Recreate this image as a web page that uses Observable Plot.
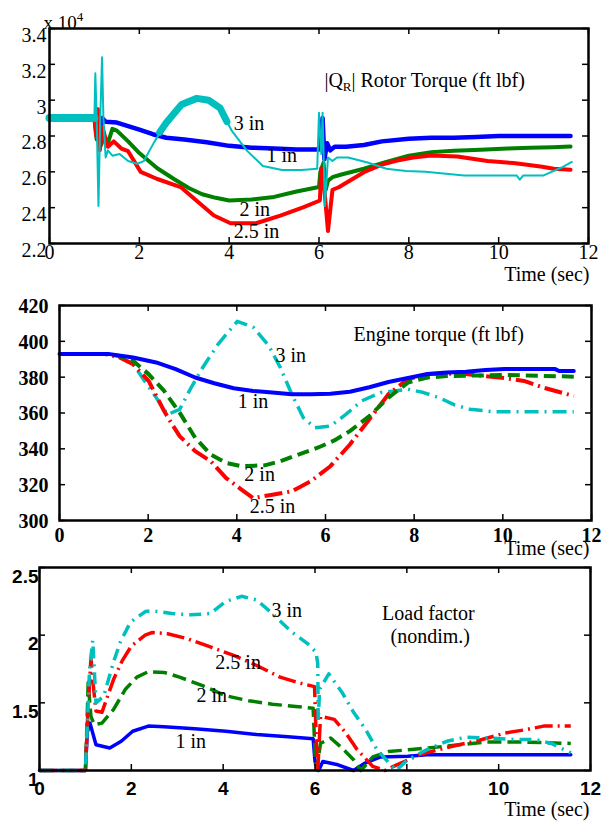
<!DOCTYPE html>
<html><head><meta charset="utf-8">
<script src="https://cdn.jsdelivr.net/npm/d3@7"></script>
<script src="https://cdn.jsdelivr.net/npm/@observablehq/plot@0.6"></script>
<style>
body{margin:0;background:#fff;}
#wrap{position:relative;width:609px;height:827px;background:#fff;}
#wrap svg{position:absolute;left:0;}
</style></head><body><div id="wrap"></div>
<script>
// ---------- data ----------
const timeTicks = [0, 2, 4, 6, 8, 10, 12];
const timeTickLabels = ["0", "2", "4", "6", "8", "10", "12"];
const seriesNames = ["1 in", "2 in", "2.5 in", "3 in"];

// Panel 1: rotor torque (x 10^4 ft lbf)
const rotorTicks = [2.2, 2.4, 2.6, 2.8, 3.0, 3.2, 3.4];
const rotorTickLabels = ["2.2", "2.4", "2.6", "2.8", "3", "3.2", "3.4"];
const rotor1in = [[0,2.9],[1.0,2.9],[1.03,2.86],[1.08,2.93],[1.12,2.78],[1.17,2.9],[1.25,2.88],[1.5,2.875],[1.75,2.855],[2,2.835],[2.3,2.81],[2.6,2.79],[3,2.78],[3.5,2.765],[4,2.745],[4.5,2.735],[5,2.73],[5.5,2.725],[6,2.725],[6.03,2.8],[6.08,2.9],[6.12,2.67],[6.18,2.76],[6.25,2.72],[6.35,2.74],[6.6,2.74],[7,2.75],[7.4,2.77],[8,2.785],[8.5,2.79],[9,2.79],[9.5,2.795],[10,2.8],[11,2.8],[11.6,2.8]];
const rotor2in = [[0,2.9],[1.0,2.9],[1.05,2.78],[1.1,2.9],[1.15,2.75],[1.22,2.8],[1.3,2.76],[1.4,2.84],[1.5,2.83],[1.75,2.77],[2,2.705],[2.4,2.62],[2.77,2.56],[3.1,2.51],[3.4,2.475],[3.7,2.455],[4,2.44],[4.5,2.445],[5,2.46],[5.5,2.49],[6,2.515],[6.03,2.6],[6.1,2.65],[6.15,2.5],[6.2,2.55],[6.3,2.57],[6.5,2.585],[7,2.617],[7.5,2.655],[8,2.69],[8.5,2.71],[9,2.718],[9.6,2.723],[10.2,2.73],[10.7,2.734],[11.2,2.737],[11.6,2.741]];
const rotor25in = [[0,2.9],[1.0,2.9],[1.04,2.8],[1.08,2.95],[1.12,2.72],[1.18,2.85],[1.25,2.78],[1.3,2.74],[1.43,2.77],[1.6,2.73],[1.75,2.715],[2.03,2.6],[2.4,2.56],[2.92,2.515],[3.36,2.42],[3.66,2.356],[4.03,2.313],[4.6,2.313],[5.14,2.356],[5.66,2.403],[6.02,2.44],[6.05,2.62],[6.12,2.5],[6.2,2.27],[6.3,2.5],[6.44,2.514],[7.0,2.598],[7.4,2.64],[7.74,2.663],[8.1,2.68],[8.49,2.691],[9.08,2.686],[9.75,2.66],[10.33,2.649],[10.93,2.63],[11.23,2.617],[11.6,2.611]];
const rotor3in = [[0,2.9],[1.0,2.9],[1.02,3.15],[1.05,2.9],[1.09,2.41],[1.13,2.9],[1.17,3.24],[1.2,2.9],[1.25,2.68],[1.3,2.72],[1.4,2.69],[1.56,2.7],[1.75,2.66],[1.95,2.645],[2.1,2.66],[2.34,2.77],[2.6,2.874],[2.94,2.976],[3.28,3.01],[3.54,3.0],[3.8,2.955],[4.06,2.828],[4.4,2.717],[4.75,2.633],[5.18,2.61],[5.61,2.61],[5.96,2.617],[6.0,2.93],[6.05,2.7],[6.08,2.93],[6.13,2.41],[6.2,2.68],[6.3,2.66],[6.4,2.68],[6.65,2.68],[7.08,2.652],[7.5,2.617],[7.94,2.605],[8.37,2.6],[9.23,2.58],[10.09,2.58],[10.4,2.58],[10.47,2.556],[10.55,2.58],[11.0,2.58],[11.4,2.624],[11.63,2.655]];
// noisy (thick) stretches of the 3 in trace
const rotor3inNoisyStart = [[0,2.9],[1.0,2.9]];
const rotor3inNoisyPeak = [[2.45,2.82],[2.6,2.874],[2.94,2.976],[3.28,3.01],[3.54,3.0],[3.8,2.955],[3.95,2.88]];

// Panel 2: engine torque (ft lbf)
const engineTicks = [300, 320, 340, 360, 380, 400, 420];
const engineTickLabels = ["300", "320", "340", "360", "380", "400", "420"];
const engine1in = [[0,393],[1.1,393],[1.66,391],[2.18,388.2],[2.62,384.5],[3.06,379.8],[3.49,376.6],[3.93,373.8],[4.37,372.3],[4.8,371.4],[5.24,370.5],[5.67,370.5],[6.11,370.8],[6.55,371.9],[6.99,374.4],[7.42,377.3],[7.86,379.5],[8.3,381.8],[8.73,382.6],[9.17,383],[9.61,384],[10.04,384.5],[11.18,384.5],[11.27,383.4],[11.6,383.4]];
const engine2in = [[0,393],[1.0,393],[1.31,392],[1.66,389.1],[2.01,381.7],[2.36,372.3],[2.71,360.2],[3.06,346.2],[3.41,336.8],[3.76,332.1],[4.1,330.3],[4.63,330.8],[4.98,333.1],[5.33,336.3],[5.85,340.9],[6.2,344.7],[6.55,349.9],[6.99,358.3],[7.42,368.6],[7.86,377],[8.3,379.8],[8.73,380.6],[10.04,381.2],[11.6,380.3]];
const engine25in = [[0,393],[1.0,393],[1.31,391.5],[1.66,387.3],[2.01,377.9],[2.36,361.1],[2.54,353.7],[2.71,347.1],[3.06,338.7],[3.41,333.1],[3.76,323.7],[4.06,318.1],[4.37,312.5],[4.8,314.4],[5.24,316.3],[5.67,321.9],[6.11,330.3],[6.55,342.4],[6.99,356.5],[7.42,370.5],[7.86,378.9],[8.3,381.7],[8.73,382],[9.17,381.7],[10.04,379.5],[10.48,377.9],[10.91,374.2],[11.6,369.5]];
const engine3in = [[0,393],[1.0,393],[1.31,392],[1.66,387.3],[1.92,377.9],[2.18,368.6],[2.44,359.2],[2.71,362],[2.97,374.2],[3.23,385.4],[3.58,398.5],[4.01,411.2],[4.37,407.8],[4.72,397.6],[4.98,385.4],[5.24,370.5],[5.5,357.4],[5.76,351.8],[6.11,352.7],[6.46,359.2],[6.81,366.7],[7.25,371.4],[7.86,373.3],[8.21,371.4],[8.56,368.6],[8.91,364.5],[9.26,362.1],[9.78,360.7],[11.6,360.7]];

// Panel 3: load factor (nondim.)
const loadTicks = [1, 1.5, 2, 2.5];
const loadTickLabels = ["1", "1.5", "2", "2.5"];
const load1in = [[0,1.0],[1.0,1.0],[1.04,1.28],[1.1,1.35],[1.23,1.19],[1.53,1.166],[1.78,1.216],[2.03,1.29],[2.37,1.328],[2.71,1.323],[3.38,1.308],[4.06,1.29],[4.73,1.266],[5.41,1.249],[5.96,1.234],[6.0,1.067],[6.08,1.0],[6.17,1.067],[6.5,1.042],[6.84,1.0],[7.09,1.055],[7.43,1.1],[8.02,1.105],[8.44,1.117],[11.57,1.117]];
const load2in = [[0,1.0],[1.0,1.0],[1.03,1.3],[1.06,1.65],[1.12,1.4],[1.19,1.34],[1.36,1.35],[1.61,1.45],[1.87,1.6],[2.12,1.69],[2.37,1.73],[2.71,1.725],[3.05,1.69],[3.55,1.627],[4.06,1.552],[4.56,1.515],[5.07,1.49],[5.58,1.473],[5.96,1.46],[6.01,1.05],[6.04,1.02],[6.12,1.2],[6.34,1.24],[6.59,1.166],[6.84,1.08],[7.0,1.0],[7.26,1.1],[7.6,1.14],[8.1,1.155],[8.87,1.18],[9.71,1.21],[10.56,1.21],[11.57,1.2]];
const load25in = [[0,1.0],[1.0,1.0],[1.05,1.4],[1.12,1.83],[1.18,1.6],[1.23,1.44],[1.36,1.43],[1.61,1.67],[1.8,1.81],[2.0,1.92],[2.3,2.0],[2.46,2.02],[2.79,2.01],[3.21,1.975],[3.72,1.913],[4.23,1.85],[4.73,1.776],[5.24,1.69],[5.66,1.647],[5.99,1.62],[6.03,1.2],[6.06,1.0],[6.12,1.4],[6.42,1.378],[6.67,1.278],[6.92,1.154],[7.26,1.03],[7.52,1.0],[7.77,1.04],[8.28,1.117],[8.87,1.17],[9.54,1.22],[10.13,1.276],[10.56,1.3],[10.98,1.328],[11.57,1.328]];
const load3in = [[0,1.0],[1.0,1.0],[1.05,1.4],[1.09,1.75],[1.16,1.96],[1.2,1.7],[1.23,1.5],[1.4,1.55],[1.61,1.8],[1.76,1.948],[1.98,2.096],[2.31,2.175],[2.46,2.18],[2.88,2.16],[3.3,2.15],[3.72,2.16],[4.06,2.25],[4.4,2.287],[4.73,2.26],[5.07,2.16],[5.49,2.025],[5.83,1.94],[6.02,1.875],[6.06,1.79],[6.07,1.37],[6.1,1.6],[6.3,1.714],[6.59,1.577],[6.84,1.43],[7.09,1.31],[7.35,1.154],[7.6,1.06],[7.77,1.0],[8.02,1.08],[8.44,1.154],[8.87,1.216],[9.29,1.246],[9.8,1.24],[10.3,1.23],[10.81,1.228],[11.15,1.2],[11.57,1.13]];

// ---------- styling ----------
const SERIF = "Liberation Serif, Times New Roman, serif";
const SANS = "Liberation Sans, Arial, sans-serif";
const C = {blue: "#0000ff", green: "#008000", red: "#ff0000", cyan: "#00bfbf"};

function panel(cfg) {
  const fw = 609 - cfg.mL - cfg.mR;
  const fh = cfg.h - cfg.mT - cfg.mB;
  const fmt = (ticks, labels) => d => labels[ticks.indexOf(d)];
  const marks = [];
  cfg.lines.forEach(l => marks.push(Plot.line(l.data, {
    x: d => d[0], y: d => d[1], stroke: l.color, strokeWidth: l.width,
    strokeDasharray: l.dash, strokeLinejoin: "round", strokeLinecap: l.dash ? "butt" : "round"
  })));
  marks.push(
    Plot.frame({stroke: "black", strokeWidth: 2.5}),
    Plot.tickX(cfg.xTicks, {x: d => d, insetTop: fh - 6, stroke: "black", strokeWidth: 1.5}),
    Plot.tickX(cfg.xTicks, {x: d => d, insetBottom: fh - 6, stroke: "black", strokeWidth: 1.5}),
    Plot.tickY(cfg.yTicks, {y: d => d, insetRight: fw - 6, stroke: "black", strokeWidth: 1.5}),
    Plot.tickY(cfg.yTicks, {y: d => d, insetLeft: fw - 6, stroke: "black", strokeWidth: 1.5}),
    Plot.axisX({ticks: cfg.xTicks, tickFormat: fmt(cfg.xTicks, cfg.xLabels), tickSize: 0, tickPadding: cfg.xPad,
      fontSize: cfg.tickFont, fontFamily: cfg.tickFamily, fontWeight: cfg.tickWeight, label: null, fill: "black"}),
    Plot.axisY({ticks: cfg.yTicks, tickFormat: fmt(cfg.yTicks, cfg.yLabels), tickSize: 0, tickPadding: cfg.yPad,
      dy: cfg.yDy, fontSize: cfg.tickFont, fontFamily: cfg.tickFamily, fontWeight: cfg.tickWeight, label: null, fill: "black"}),
    Plot.text(["Time (sec)"], {frameAnchor: "bottom-right", textAnchor: "end", dx: cfg.timeDx, dy: cfg.timeDy,
      fontSize: 20, fontFamily: SERIF, fill: "black"})
  );
  cfg.notes.forEach(n => marks.push(Plot.text([n], {x: n.x, y: n.y, text: d => d.text, textAnchor: n.anchor || "start",
    fontSize: 20, fontFamily: SERIF, fill: "black"})));
  (cfg.extra || []).forEach(m => marks.push(m));
  const svg = Plot.plot({
    width: 609, height: cfg.h,
    marginTop: cfg.mT, marginBottom: cfg.mB, marginLeft: cfg.mL, marginRight: cfg.mR,
    x: {domain: [0, 12]}, y: {domain: cfg.yDomain},
    style: {background: "transparent", overflow: "visible", fontFamily: SERIF, fontSize: "20px", color: "black"},
    marks
  });
  svg.style.top = cfg.top + "px";
  document.getElementById("wrap").appendChild(svg);
  return svg;
}

function richText(svg, full, before, small, after, size, shift) {
  svg.querySelectorAll("text").forEach(t => {
    if (t.textContent === full) {
      while (t.firstChild) t.removeChild(t.firstChild);
      const ns = "http://www.w3.org/2000/svg";
      t.appendChild(document.createTextNode(before));
      const s = document.createElementNS(ns, "tspan");
      s.setAttribute("font-size", size); s.setAttribute("dy", shift); s.textContent = small;
      t.appendChild(s);
      if (after) {
        const a = document.createElementNS(ns, "tspan");
        a.setAttribute("dy", -shift); a.textContent = after;
        t.appendChild(a);
      }
    }
  });
}

// Panel 1
const p1 = panel({
  top: 0, h: 295, mT: 28, mB: 52, mL: 49, mR: 21,
  yDomain: [2.2, 3.4], xTicks: timeTicks, xLabels: timeTickLabels, yTicks: rotorTicks, yLabels: rotorTickLabels,
  tickFont: 20, tickFamily: SERIF, tickWeight: "normal", xPad: 1, yPad: 3, yDy: 7, timeDx: 1, timeDy: 37,
  lines: [
    {data: rotor1in, color: C.blue, width: 4.5},
    {data: rotor2in, color: C.green, width: 4},
    {data: rotor25in, color: C.red, width: 4},
    {data: rotor3in, color: C.cyan, width: 2},
    {data: rotor3inNoisyStart, color: C.cyan, width: 8},
    {data: rotor3inNoisyPeak, color: C.cyan, width: 7}
  ],
  notes: [
    {text: "|QR| Rotor Torque (ft lbf)", x: 6.12, y: 3.112},
    {text: seriesNames[3], x: 4.10, y: 2.872},
    {text: seriesNames[0], x: 4.83, y: 2.688},
    {text: seriesNames[1], x: 4.23, y: 2.392},
    {text: seriesNames[2], x: 4.10, y: 2.269}
  ],
  extra: [Plot.text(["x 104"], {frameAnchor: "top-left", textAnchor: "start", dx: -6, dy: -13, fontSize: 19, fontFamily: SERIF, fill: "black"})]
});
richText(p1, "|QR| Rotor Torque (ft lbf)", "|Q", "R", "| Rotor Torque (ft lbf)", 13, 4);
richText(p1, "x 104", "x 10", "4", "", 13, -8);

// Panel 2
panel({
  top: 295, h: 270, mT: 10, mB: 45, mL: 59, mR: 18,
  yDomain: [300, 420], xTicks: timeTicks, xLabels: timeTickLabels, yTicks: engineTicks, yLabels: engineTickLabels,
  tickFont: 20, tickFamily: SERIF, tickWeight: "bold", xPad: 7, yPad: 11, yDy: 1, timeDx: -2, timeDy: 34,
  lines: [
    {data: engine3in, color: C.cyan, width: 3.5, dash: "14,6,2,6"},
    {data: engine25in, color: C.red, width: 4, dash: "18,5,2,5"},
    {data: engine2in, color: C.green, width: 4, dash: "12,6"},
    {data: engine1in, color: C.blue, width: 4}
  ],
  notes: [
    {text: "Engine torque (ft lbf)", x: 6.63, y: 404.0},
    {text: seriesNames[3], x: 4.87, y: 391.8},
    {text: seriesNames[0], x: 4.02, y: 366.6},
    {text: seriesNames[1], x: 4.17, y: 325.9},
    {text: seriesNames[2], x: 4.29, y: 307.5}
  ]
});

// Panel 3
panel({
  top: 565, h: 262, mT: 2, mB: 57, mL: 39, mR: 19,
  yDomain: [1, 2.5], xTicks: timeTicks, xLabels: timeTickLabels, yTicks: loadTicks, yLabels: loadTickLabels,
  tickFont: 19, tickFamily: SANS, tickWeight: "bold", xPad: 11, yPad: 1, yDy: 9, timeDx: -1, timeDy: 45,
  lines: [
    {data: load1in, color: C.blue, width: 3.5},
    {data: load2in, color: C.green, width: 3.5, dash: "14,6"},
    {data: load25in, color: C.red, width: 3.5, dash: "18,5,2,5"},
    {data: load3in, color: C.cyan, width: 3.5, dash: "12,6,2,6"}
  ],
  notes: [
    {text: seriesNames[3], x: 5.05, y: 2.178},
    {text: "Load factor", x: 8.47, y: 2.156, anchor: "middle"},
    {text: "(nondim.)", x: 8.51, y: 1.993, anchor: "middle"},
    {text: seriesNames[2], x: 3.83, y: 1.80},
    {text: seriesNames[1], x: 3.42, y: 1.55},
    {text: seriesNames[0], x: 2.96, y: 1.21}
  ]
});
</script></body></html>
